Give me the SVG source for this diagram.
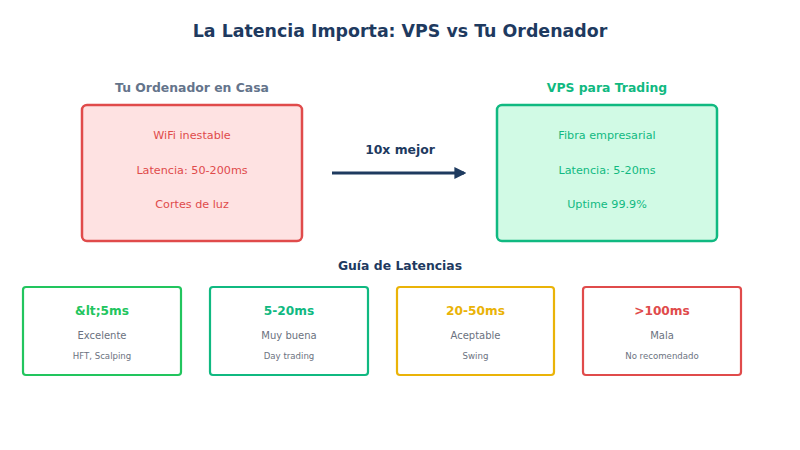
<svg xmlns="http://www.w3.org/2000/svg" width="800" height="450" viewBox="0 0 800 450">
<defs>
<style>
text{font-family:"DejaVu Sans","Noto Sans",sans-serif;text-anchor:middle}
.title{font-size:17.4px;font-weight:bold;fill:#1e3a5f}
.sub{font-size:12.4px;font-weight:bold}
.big{stroke-width:2.5}
.item{font-size:11.2px}
.card{fill:#ffffff;stroke-width:2.2}
.h{font-size:12.2px;font-weight:bold}
.m{font-size:10px;fill:#6b7280}
.s{font-size:8.6px;fill:#6b7280}
</style>
<marker id="arr" viewBox="0 0 10 10" refX="8" refY="5" markerWidth="4" markerHeight="4" orient="auto"><path d="M0,0 L10,5 L0,10 z" fill="#1e3a5f"/></marker>
</defs>
<rect width="800" height="450" fill="#ffffff"/>
<text class="title" x="400" y="37">La Latencia Importa: VPS vs Tu Ordenador</text>
<g id="home">
<text class="sub" x="192" y="92" fill="#64748b">Tu Ordenador en Casa</text>
<rect class="big" x="82" y="105" width="220" height="136" rx="5" fill="#fee2e2" stroke="#e04b4b"/>
<text class="item" x="192" y="139" fill="#e04b4b">WiFi inestable</text>
<text class="item" x="192" y="174" fill="#e04b4b">Latencia: 50-200ms</text>
<text class="item" x="192" y="208" fill="#e04b4b">Cortes de luz</text>
</g>
<g id="vps">
<text class="sub" x="607" y="92" fill="#10b981">VPS para Trading</text>
<rect class="big" x="497" y="105" width="220" height="136" rx="5" fill="#d1fae5" stroke="#10b981"/>
<text class="item" x="607" y="139" fill="#10b981">Fibra empresarial</text>
<text class="item" x="607" y="174" fill="#10b981">Latencia: 5-20ms</text>
<text class="item" x="607" y="208" fill="#10b981">Uptime 99.9%</text>
</g>
<g id="connectors">
<line x1="332" y1="173" x2="464" y2="173" stroke="#1e3a5f" stroke-width="3" marker-end="url(#arr)"/>
<text class="sub" x="400" y="154" fill="#1e3a5f">10x mejor</text>
</g>
<text class="sub" x="400" y="270" fill="#1e3a5f">Guía de Latencias</text>
<g id="c1">
<rect class="card" x="23" y="287" width="158" height="88" rx="3" stroke="#22c55e"/>
<text class="h" x="102" y="315" fill="#22c55e">&amp;lt;5ms</text>
<text class="m" x="102" y="339">Excelente</text>
<text class="s" x="102" y="359">HFT, Scalping</text>
</g>
<g id="c2">
<rect class="card" x="210" y="287" width="158" height="88" rx="3" stroke="#10b981"/>
<text class="h" x="289" y="315" fill="#10b981">5-20ms</text>
<text class="m" x="289" y="339">Muy buena</text>
<text class="s" x="289" y="359">Day trading</text>
</g>
<g id="c3">
<rect class="card" x="397" y="287" width="157" height="88" rx="3" stroke="#eab308"/>
<text class="h" x="475.5" y="315" fill="#eab308">20-50ms</text>
<text class="m" x="475.5" y="339">Aceptable</text>
<text class="s" x="475.5" y="359">Swing</text>
</g>
<g id="c4">
<rect class="card" x="583" y="287" width="158" height="88" rx="3" stroke="#e04b4b"/>
<text class="h" x="662" y="315" fill="#e04b4b">&gt;100ms</text>
<text class="m" x="662" y="339">Mala</text>
<text class="s" x="662" y="359">No recomendado</text>
</g>
</svg>
